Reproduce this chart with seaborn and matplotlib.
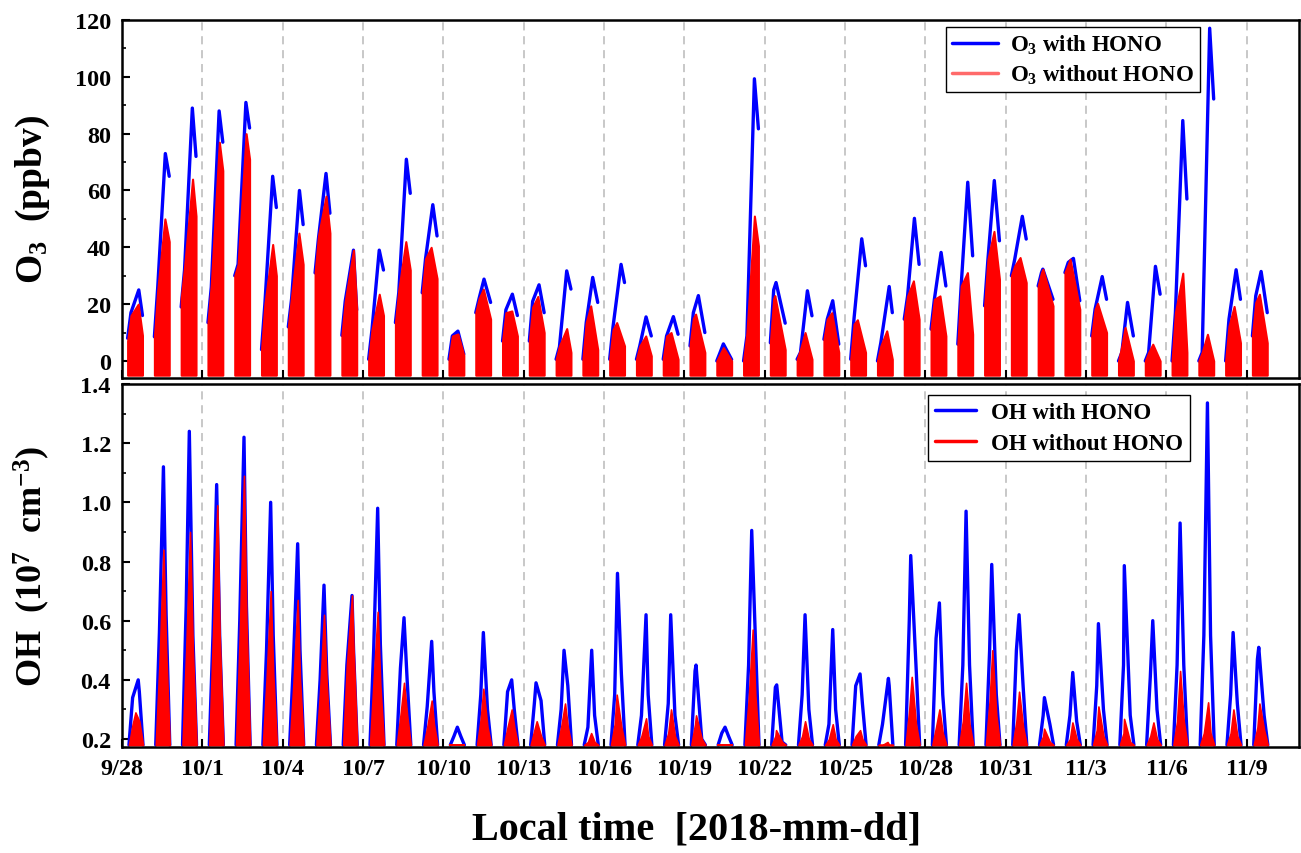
import matplotlib
matplotlib.use("Agg")
import matplotlib.pyplot as plt
from matplotlib.lines import Line2D
from matplotlib.ticker import MultipleLocator, FormatStrFormatter
import pandas as pd
import seaborn as sns

# ---------------------------------------------------------------------------
# Data: one entry per day, starting 2018-09-28 (day 0) through 2018-11-09.
# O3 rows: (value at 05:00, value at 08:00, daily peak, hour of peak, value at 18:20)  [ppbv]
# OH rows: (value at 09:30, daily peak, hour of peak, value at 15:30)  [1e7 cm-3]
# ---------------------------------------------------------------------------
tick_days = list(range(0, 43, 3))
tick_labels = ["9/28", "10/1", "10/4", "10/7", "10/10", "10/13", "10/16", "10/19",
               "10/22", "10/25", "10/28", "10/31", "11/3", "11/6", "11/9"]

o3_with_hono = [
    (8, 17, 25, 15.0, 16), (8.5, 26, 73, 14.8, 65), (19, 32, 89, 15.0, 72),
    (13.5, 26, 88, 15.0, 77), (30, 34, 91, 15.0, 82), (4, 20, 65, 15.0, 54),
    (12, 22, 60, 15.0, 48), (31, 43, 66, 14.8, 52), (9, 21, 39, 15.4, 18),
    (0.6, 11, 39, 14.5, 32), (13.5, 24, 71, 14.8, 59), (24, 36, 55, 14.5, 44),
    (0.6, 8.8, 10.5, 13.0, 2.4), (17, 22, 28.8, 12.4, 20.6), (7, 18, 23.5, 13.8, 16),
    (7, 21, 26.8, 13.7, 17), (0.6, 5, 31.7, 14.5, 25.3), (0.6, 13.5, 29.4, 13.8, 20.6),
    (0.6, 12, 34, 15.2, 27.6), (0.6, 5.3, 15.5, 13.6, 8.8), (0.6, 8.8, 15.6, 14.1, 9.4),
    (5.3, 17, 23, 12.5, 10), (0, 3, 6, 10.9, 0.5), (0, 8.8, 99.3, 14.7, 81.7),
    (6.4, 25, 27.6, 10.1, 13.3), (0.6, 3, 24.7, 14.2, 15.9), (7.6, 14.7, 21.2, 12.9, 5.9),
    (0.6, 15, 43, 14.9, 33.5), (0, 6.4, 26.2, 15.5, 17), (14.7, 22.9, 50.2, 14.1, 34),
    (11.2, 21.7, 38.2, 14.0, 26.4), (5.9, 26.4, 62.9, 13.9, 37), (19.4, 35.8, 63.5, 13.7, 42.3),
    (30, 35.8, 50.9, 14.8, 42.9), (26.4, 31.1, 32.3, 9.2, 21.7), (31.1, 34.7, 36.1, 12.6, 21.2),
    (8.8, 18.2, 29.7, 14.4, 21.7), (0, 3, 20.6, 13.1, 8.8), (0, 3, 33.3, 14.1, 23.5),
    (0, 17, 84.6, 14.6, 57), (0, 3, 117.1, 14.7, 92.2), (0, 14.7, 32.1, 14.4, 21.7),
    (8.8, 22.9, 31.5, 12.8, 17),
]

o3_without_hono = [
    (7, 16, 20, 14.5, 9), (8.5, 25, 50, 14.4, 42), (22, 33, 64, 15.2, 51),
    (13.5, 27, 77, 15.2, 67), (30, 34, 80, 15.2, 71), (4, 20, 41, 15.0, 30),
    (12, 23, 45, 14.5, 34), (31, 44, 58, 14.8, 45), (9, 21, 39, 15.4, 18),
    (0.6, 11, 23.5, 14.5, 16), (13.5, 25, 42, 14.3, 32), (24, 36, 40, 13.0, 29),
    (0.6, 8.8, 9.5, 13.0, 2), (17, 22, 25.3, 11.8, 14.7), (7, 17, 17.6, 13.3, 8.8),
    (7, 19, 22.7, 12.6, 10), (0.6, 5.3, 11.4, 14.5, 3), (0.6, 13.5, 19.4, 12.0, 4),
    (0.6, 11, 13.5, 11.3, 5.3), (0.6, 5.3, 8.8, 13.3, 1.8), (0.6, 8.8, 10, 12.0, 0.6),
    (5.3, 15, 16.5, 10.0, 3), (0, 2.5, 4.7, 10.9, 0), (0, 10, 51, 14.7, 40.5),
    (6.4, 22, 23, 9.0, 4), (0.6, 4.1, 10, 12.1, 0.6), (7.6, 14.7, 17, 12.0, 3),
    (0.6, 13, 14.5, 11.0, 3), (0, 5.3, 10.6, 13.3, 0.6), (14.7, 22.9, 28.2, 13.2, 14.7),
    (11.2, 21.7, 22.9, 13.0, 8.8), (5.9, 26.4, 31.1, 13.6, 9.4), (19.4, 35.8, 45.6, 13.4, 28.8),
    (30, 33.5, 36.4, 12.8, 27.6), (26.4, 31.1, 32.3, 9.2, 19.4), (31.1, 34.1, 35.8, 9.6, 18.2),
    (8.8, 18.2, 20.3, 10.2, 10), (0, 5.3, 11.8, 10.9, 0), (0, 3, 5.9, 11.7, 0),
    (0, 17, 30.9, 14.6, 3), (0, 3, 9.4, 12.7, 0), (0, 12.3, 19.2, 12.6, 6.4),
    (8.8, 20.6, 23.5, 11.3, 6.4),
]

oh_with_hono = [
    (0.34, 0.40, 14.5, 0.36), (0.56, 1.12, 13.1, 0.62), (0.65, 1.24, 12.3, 0.55),
    (0.55, 1.06, 12.8, 0.55), (0.60, 1.22, 13.3, 0.65), (0.50, 1.00, 13.2, 0.55),
    (0.45, 0.86, 13.4, 0.50), (0.40, 0.72, 13.0, 0.42), (0.45, 0.685, 14.1, 0.50),
    (0.50, 0.98, 13.1, 0.52), (0.44, 0.61, 12.7, 0.40), (0.31, 0.53, 13.5, 0.36),
    (0.21, 0.24, 12.5, 0.21), (0.35, 0.56, 11.8, 0.30), (0.36, 0.40, 13.2, 0.30),
    (0.32, 0.39, 11.0, 0.33), (0.30, 0.50, 12.1, 0.38), (0.24, 0.50, 12.9, 0.28),
    (0.35, 0.76, 12.0, 0.42), (0.28, 0.62, 13.6, 0.35), (0.32, 0.62, 11.7, 0.28),
    (0.43, 0.45, 10.4, 0.20), (0.22, 0.24, 12.4, 0.21), (0.45, 0.905, 12.3, 0.55),
    (0.375, 0.383, 10.7, 0.19), (0.35, 0.62, 12.1, 0.30), (0.25, 0.57, 12.9, 0.30),
    (0.38, 0.42, 13.4, 0.32), (0.25, 0.405, 14.8, 0.38), (0.60, 0.82, 10.8, 0.45),
    (0.54, 0.66, 12.5, 0.35), (0.45, 0.97, 12.4, 0.45), (0.50, 0.79, 11.4, 0.35),
    (0.50, 0.62, 11.9, 0.38), (0.28, 0.34, 10.6, 0.25), (0.28, 0.425, 12.0, 0.26),
    (0.38, 0.59, 11.0, 0.30), (0.45, 0.786, 10.2, 0.28), (0.41, 0.60, 11.7, 0.30),
    (0.45, 0.93, 12.2, 0.45), (0.55, 1.336, 12.7, 0.55), (0.35, 0.56, 11.7, 0.32),
    (0.47, 0.51, 10.7, 0.28),
]

oh_without_hono = [
    (0.25, 0.29, 12.0, 0.26), (0.45, 0.84, 13.1, 0.50), (0.50, 0.90, 12.9, 0.50),
    (0.55, 0.99, 13.4, 0.55), (0.55, 1.09, 13.3, 0.60), (0.40, 0.70, 13.2, 0.42),
    (0.38, 0.67, 13.4, 0.40), (0.36, 0.62, 13.0, 0.38), (0.45, 0.685, 14.1, 0.50),
    (0.40, 0.63, 13.1, 0.38), (0.28, 0.39, 12.7, 0.28), (0.24, 0.33, 13.5, 0.25),
    (0.18, 0.18, 12.5, 0.18), (0.27, 0.37, 11.8, 0.24), (0.24, 0.30, 13.2, 0.24),
    (0.23, 0.26, 11.6, 0.21), (0.24, 0.32, 13.0, 0.24), (0.19, 0.22, 12.4, 0.19),
    (0.25, 0.35, 11.3, 0.24), (0.21, 0.27, 13.6, 0.21), (0.22, 0.30, 12.0, 0.21),
    (0.25, 0.28, 10.4, 0.20), (0.18, 0.18, 12.4, 0.18), (0.33, 0.57, 13.2, 0.35),
    (0.21, 0.23, 10.1, 0.19), (0.21, 0.26, 12.1, 0.20), (0.20, 0.25, 12.9, 0.20),
    (0.21, 0.23, 13.4, 0.20), (0.18, 0.19, 14.0, 0.18), (0.30, 0.41, 11.7, 0.25),
    (0.24, 0.30, 12.5, 0.22), (0.26, 0.39, 12.4, 0.25), (0.33, 0.50, 11.9, 0.28),
    (0.26, 0.36, 11.9, 0.24), (0.21, 0.235, 10.3, 0.19), (0.20, 0.256, 11.7, 0.20),
    (0.23, 0.31, 11.0, 0.21), (0.22, 0.268, 10.0, 0.19), (0.21, 0.256, 12.3, 0.20),
    (0.26, 0.43, 12.2, 0.26), (0.22, 0.324, 13.3, 0.22), (0.22, 0.30, 12.0, 0.21),
    (0.24, 0.32, 11.3, 0.23),
]

oh_night = 0.18          # OH level at sunrise / sunset
o3_fill_floor = -5       # lower edge of the filled O3 humps


def o3_frame(rows):
    recs = []
    for d, (s, a, p, ph, e) in enumerate(rows):
        for h, v in ((5.0, s), (8.0, a), (ph, p), (18.3, e)):
            recs.append((d, d + h / 24.0, v))
    return pd.DataFrame(recs, columns=["day", "t", "v"])


def oh_frame(rows):
    recs = []
    for d, (a, p, ph, b) in enumerate(rows):
        for h, v in ((6.2, oh_night), (9.5, a), (ph, p), (15.5, b), (18.8, oh_night)):
            recs.append((d, d + h / 24.0, v))
    return pd.DataFrame(recs, columns=["day", "t", "v"])


o3_w = o3_frame(o3_with_hono)
o3_wo = o3_frame(o3_without_hono)
oh_w = oh_frame(oh_with_hono)
oh_wo = oh_frame(oh_without_hono)

# ---------------------------------------------------------------------------
sns.set_style("ticks")
plt.rcParams["font.family"] = ["Liberation Serif", "DejaVu Serif"]
plt.rcParams["font.weight"] = "bold"
plt.rcParams["axes.labelweight"] = "bold"
plt.rcParams["mathtext.fontset"] = "custom"
plt.rcParams["mathtext.rm"] = "Liberation Serif:bold"
plt.rcParams["mathtext.bf"] = "Liberation Serif:bold"
plt.rcParams["mathtext.it"] = "Liberation Serif:bold:italic"
for key in ("text.color", "axes.labelcolor", "xtick.color", "ytick.color", "axes.edgecolor"):
    plt.rcParams[key] = "black"

BLUE = "#0000ff"
RED = "#ff0000"

fig = plt.figure(figsize=(13.01, 8.54), dpi=100)
ax1 = fig.add_axes([0.0938, 0.5562, 0.9047, 0.4192])
ax2 = fig.add_axes([0.0938, 0.1241, 0.9047, 0.4251])

# O3 panel
sns.lineplot(data=o3_w, x="t", y="v", units="day", estimator=None, sort=False,
             color=BLUE, lw=2.4, ax=ax1, legend=False, solid_joinstyle="round")
for _, g in o3_wo.groupby("day"):
    ax1.fill_between(g["t"], g["v"], o3_fill_floor, color=RED, lw=1.5,
                     joinstyle="round", zorder=3)

# OH panel
sns.lineplot(data=oh_w, x="t", y="v", units="day", estimator=None, sort=False,
             color=BLUE, lw=2.4, ax=ax2, legend=False, solid_joinstyle="round")
for _, g in oh_wo.groupby("day"):
    ax2.fill_between(g["t"], g["v"], oh_night, color=RED, lw=1.2,
                     joinstyle="round", zorder=3)

ax1.set_ylim(-6, 120)
ax2.set_ylim(0.173, 1.4)
ax1.yaxis.set_major_locator(MultipleLocator(20))
ax1.yaxis.set_minor_locator(MultipleLocator(10))
ax2.yaxis.set_major_locator(MultipleLocator(0.2))
ax2.yaxis.set_minor_locator(MultipleLocator(0.1))
ax2.yaxis.set_major_formatter(FormatStrFormatter("%.1f"))

for ax in (ax1, ax2):
    ax.set_xlim(0, 43.95)
    ax.set_xticks(tick_days)
    ax.set_xlabel("")
    ax.set_ylabel("")
    ax.set_axisbelow(True)
    ax.grid(False)
    ax.grid(axis="x", which="major", color="#c4c4c4", ls=(0, (4.5, 3.2)), lw=1.3)
    ax.tick_params(which="major", direction="in", length=6, width=1.5,
                   labelsize=17.5, top=False, right=False, pad=8)
    ax.tick_params(which="minor", direction="in", length=3, width=1.2,
                   top=False, right=False)
    ax.tick_params(axis="x", which="minor", bottom=False)
    for sp in ax.spines.values():
        sp.set_visible(True)
        sp.set_linewidth(1.8)
        sp.set_color("black")

ax1.set_xticklabels([])
ax2.set_xticklabels(tick_labels)

ax1.set_ylabel(r"O$_\mathrm{3}$  (ppbv)", fontsize=27, fontweight="bold")
ax1.yaxis.set_label_coords(-0.0595, 0.5)
ax2.set_ylabel(r"OH  (10$^\mathrm{7}$  cm$^\mathrm{-3}$)", fontsize=26, fontweight="bold")
ax2.yaxis.set_label_coords(-0.0595, 0.5)

fig.text(697 / 1301, 1 - 830 / 854, "Local time  [2018-mm-dd]", ha="center",
         va="center", fontsize=29, fontweight="bold")

leg1 = ax1.legend(
    [Line2D([], [], color=BLUE, lw=2.5), Line2D([], [], color="#ff6a6a", lw=2.5)],
    [r"O$_\mathrm{3}$ with HONO", r"O$_\mathrm{3}$ without HONO"],
    loc="upper left", bbox_to_anchor=(0.700, 0.980), borderaxespad=0,
    fontsize=16.5, frameon=True, fancybox=False, framealpha=1, edgecolor="black",
    borderpad=0.25, handlelength=2.0, handletextpad=0.55, labelspacing=0.3)
leg1.get_frame().set_linewidth(1.0)

leg2 = ax2.legend(
    [Line2D([], [], color=BLUE, lw=2.5), Line2D([], [], color=RED, lw=2.5)],
    ["OH with HONO", "OH without HONO"],
    loc="upper left", bbox_to_anchor=(0.6848, 0.9697), borderaxespad=0,
    fontsize=16.5, frameon=True, fancybox=False, framealpha=1, edgecolor="black",
    borderpad=0.3, handlelength=1.8, handletextpad=0.65, labelspacing=0.45)
leg2.get_frame().set_linewidth(1.0)

fig.savefig("out.png", dpi=100)
